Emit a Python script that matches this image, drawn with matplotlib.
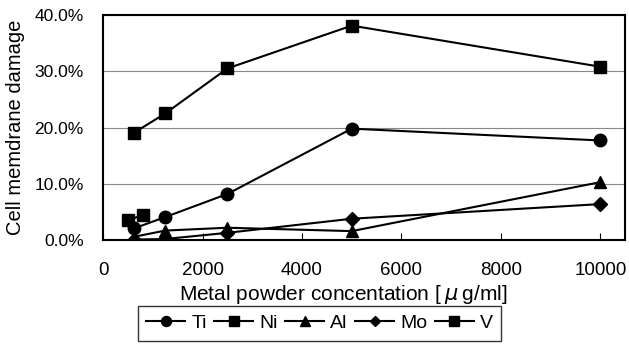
import numpy as np
import matplotlib.pyplot as plt
from matplotlib.ticker import FuncFormatter

plt.rcParams['font.family'] = ['Liberation Sans', 'DejaVu Sans']

# concentration [ug/ml] and damage [%]
conc = [625, 1250, 2500, 5000, 10000]
ti = [2.1, 4.1, 8.2, 19.8, 17.7]
ni = [19.1, 22.5, 30.5, 38.1, 30.8]
al = [0.6, 1.7, 2.2, 1.6, 10.3]
mo = [0.1, 0.2, 1.3, 3.8, 6.4]
v_conc = [500, 800]
v = [3.5, 4.5]

fig = plt.figure(figsize=(6.29, 3.47), dpi=100)
ax = fig.add_axes([0.164, 0.308, 0.830, 0.649])

ax.plot(conc, ti, '-o', color='k', lw=1.5, ms=9, label='Ti')
ax.plot(conc, ni, '-s', color='k', lw=1.5, ms=9, label='Ni')
ax.plot(conc, al, '-^', color='k', lw=1.5, ms=9, label='Al')
ax.plot(conc, mo, '-D', color='k', lw=1.5, ms=7, label='Mo')
ax.plot(v_conc, v, '-s', color='k', lw=1.5, ms=9, label='V')

ax.set_xlim(0, 10500)
ax.set_ylim(0, 40)
ax.set_xticks(np.arange(0, 10001, 2000))
ax.set_yticks(np.arange(0, 41, 10))
ax.yaxis.set_major_formatter(FuncFormatter(lambda y, _: f"{y:.1f}%"))
ax.tick_params(axis='x', direction='in', length=5, labelsize=13.5, pad=16)
ax.tick_params(axis='y', length=0, labelsize=12.5, pad=14)
ax.grid(axis='y', color='#888888', lw=0.8)
for s in ax.spines.values():
    s.set_linewidth(1.5)

ax.set_xlabel('Metal powder concentation [\u2009$\\mu$\u2009g/ml]', fontsize=15)
ax.xaxis.set_label_coords(0.46, -0.19)
ax.set_ylabel('Cell memdrane damage', fontsize=14.5)
ax.yaxis.set_label_coords(-0.15, 0.5)

fig.legend(loc='center', bbox_to_anchor=(0.508, 0.068), ncol=5, fontsize=14,
           frameon=True, fancybox=False, edgecolor='k', handlelength=2.0,
           handletextpad=0.3, columnspacing=0.4, borderpad=0.45,
           borderaxespad=0, markerscale=0.8)

fig.savefig('out.png', dpi=100)
